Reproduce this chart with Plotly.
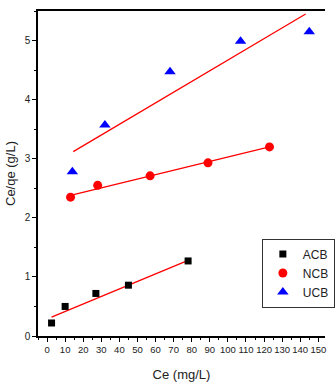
import plotly.graph_objects as go

acb_x = [2.5, 10, 27, 45, 78]
acb_y = [0.22, 0.50, 0.72, 0.86, 1.27]
ncb_x = [13, 28, 57, 89, 123]
ncb_y = [2.35, 2.55, 2.71, 2.93, 3.20]
ucb_x = [14, 32, 68, 107, 145]
ucb_y = [2.78, 3.57, 4.47, 4.99, 5.15]

# fitted lines (endpoints)
acb_fit_x = [2.5, 78]
acb_fit_y = [0.32, 1.28]
ncb_fit_x = [13, 123]
ncb_fit_y = [2.38, 3.20]
ucb_fit_x = [14.5, 143]
ucb_fit_y = [3.12, 5.45]

x_ticks = list(range(0, 151, 10))
y_ticks = [0, 1, 2, 3, 4, 5]

font_family = "Liberation Sans, Arial, sans-serif"

fig = go.Figure()
for fx, fy in [(acb_fit_x, acb_fit_y), (ncb_fit_x, ncb_fit_y), (ucb_fit_x, ucb_fit_y)]:
    fig.add_trace(go.Scatter(x=fx, y=fy, mode="lines", line=dict(color="red", width=1.3),
                             showlegend=False, hoverinfo="skip"))
fig.add_trace(go.Scatter(x=acb_x, y=acb_y, mode="markers", name="ACB",
                         marker=dict(symbol="square", color="black", size=7)))
fig.add_trace(go.Scatter(x=ncb_x, y=ncb_y, mode="markers", name="NCB",
                         marker=dict(symbol="circle", color="red", size=9)))
fig.add_trace(go.Scatter(x=ucb_x, y=ucb_y, mode="markers", name="UCB",
                         marker=dict(symbol="triangle-up", color="blue", size=10)))

fig.update_layout(
    width=335, height=383,
    margin=dict(l=38, r=0, t=11, b=47),
    plot_bgcolor="white", paper_bgcolor="white",
    font=dict(family=font_family, size=10, color="#222"),
    legend=dict(x=0.78, y=0.30, xanchor="left", yanchor="top",
                bordercolor="#333", borderwidth=1, bgcolor="white",
                font=dict(size=12, family=font_family), itemwidth=30,
                tracegroupgap=0),
    xaxis=dict(range=[-5, 153.7], tickmode="array", tickvals=x_ticks,
               tickangle=0, tickfont=dict(size=9.5), automargin=False,
               showgrid=False, zeroline=False, showline=True, linecolor="black",
               linewidth=1.5, mirror=True, ticks="outside", ticklen=4,
               tickcolor="black", minor=dict(dtick=5, ticks="outside", ticklen=2, tickcolor="black"),
               title=dict(text="Ce (mg/L)", font=dict(size=13), standoff=16)),
    yaxis=dict(range=[0, 5.5], tickmode="array", tickvals=y_ticks, automargin=False,
               showgrid=False, zeroline=False, showline=True, linecolor="black",
               linewidth=1.5, ticks="outside", ticklen=4, tickcolor="black",
               minor=dict(dtick=0.5, ticks="outside", ticklen=2, tickcolor="black"),
               title=dict(text="Ce/qe (g/L)", font=dict(size=13), standoff=6)),
)

fig.write_html("out.html")
